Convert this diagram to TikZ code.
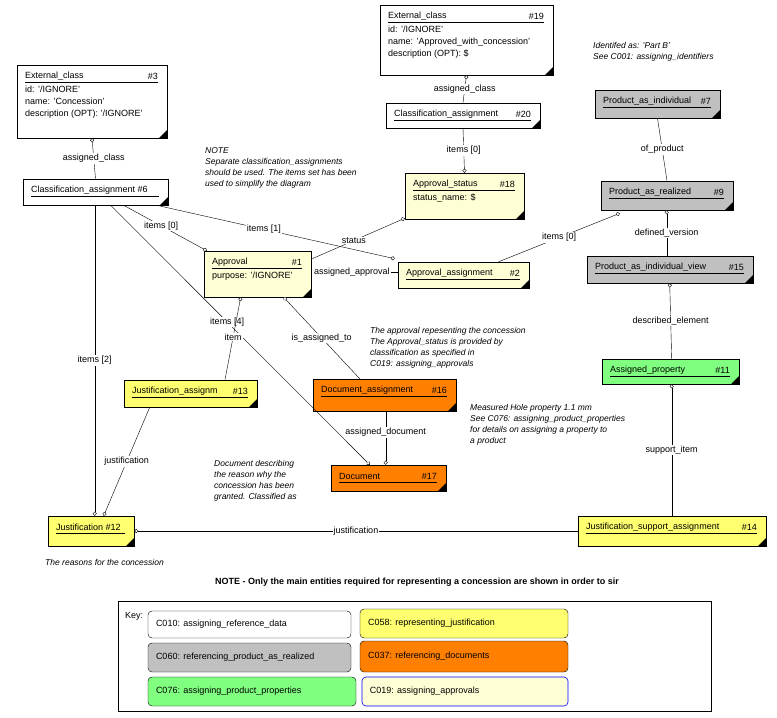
\documentclass[tikz,border=0pt]{standalone}
\usepackage{fontspec}
\setmainfont{Liberation Sans}
\usetikzlibrary{arrows.meta,calc}
\definecolor{ltyel}{RGB}{255,255,214}
\definecolor{yel}{RGB}{255,255,112}
\definecolor{gry}{RGB}{192,192,192}
\definecolor{org}{RGB}{255,128,0}
\definecolor{grn}{RGB}{128,255,128}
\tikzset{
  box/.style={draw,semithick,inner sep=0pt},
  txt/.style={inner sep=0pt,font=\fontsize{9}{11}\selectfont},
  note/.style={txt,align=left,font=\fontsize{8.5}{11}\selectfont\itshape,anchor=north west},
  rel/.style={-{Circle[open,fill=white,length=4pt]}},
  lbl/.style={txt,fill=white,inner sep=1pt},
  keybox/.style={draw,rounded corners=4pt,inner sep=0pt},
}
% name, x1, y1, x2, y2, fill, title, number, attributes
\newcommand\ent[9]{%
  \node[box,fill=#6,minimum width={(#4-#2)*1pt},minimum height={(#5-#3)*1pt}]
    (#1) at ({(#2+#4)/2},{(#3+#5)/2}) {};
  \node[txt,anchor=west] (#1t) at ({#2+8},{#3+11}) {#7};
  \node[txt,anchor=east] (#1n) at ({#4-9},{#3+11}) {#8};
  \draw ({#2+8},{#3+17}) -- ({#4-9},{#3+17});
  \node[txt,anchor=north west,align=left] (#1a) at ({#2+8},{#3+21}) {#9};
  \fill (#4,#5) -- ++(-8,0) -- ++(8,-8) -- cycle;
}
\begin{document}
\begin{tikzpicture}[x=1pt,y=-1pt]
\useasboundingbox (0,0) rectangle (777,718);
% entities
\ent{ext3}{17}{65}{167}{138}{white}{External\_class}{\#3}{id: '/IGNORE'\\[1pt]name: 'Concession'\\[1pt]description (OPT): '/IGNORE'}
\ent{ext19}{380}{5}{553}{75}{white}{External\_class}{\#19}{id: '/IGNORE'\\[1pt]name: 'Approved\_with\_concession'\\[1pt]description (OPT): \$}
\ent{ca20}{386}{103}{540}{128}{white}{Classification\_assignment}{\#20}{}
\ent{ca6}{23}{179}{168}{205}{white}{Classification\_assignment \#6}{}{}
\ent{as18}{405}{173}{524}{219}{ltyel}{Approval\_status}{\#18}{status\_name: \$}
\ent{appr1}{204}{251}{311}{297}{ltyel}{Approval}{\#1}{purpose: '/IGNORE'}
\ent{aa2}{398}{262}{529}{288}{ltyel}{Approval\_assignment}{\#2}{}
\ent{pai7}{595}{90}{720}{118}{gry}{Product\_as\_individual}{\#7}{}
\ent{par9}{601}{181}{733}{210}{gry}{Product\_as\_realized}{\#9}{}
\ent{paiv15}{587}{256}{753}{283}{gry}{Product\_as\_individual\_view}{\#15}{}
\ent{ap11}{602}{359}{739}{384}{grn}{Assigned\_property}{\#11}{}
\ent{ja13}{124}{380}{257}{407}{yel}{Justification\_assignm}{\#13}{}
\ent{da16}{313}{379}{456}{411}{org}{Document\_assignment}{\#16}{}
\ent{doc17}{331}{465}{446}{491}{org}{Document}{\#17}{}
\ent{j12}{48}{516}{134}{546}{yel}{Justification \#12}{}{}
\ent{jsa14}{578}{516}{766}{546}{yel}{Justification\_support\_assignment}{\#14}{}
% relationships
\draw[rel] (ca6.north) -- node[lbl]{assigned\_class} (ext3.south);
\draw[rel] (ca20.north) -- node[lbl]{assigned\_class} (ext19.south);
\draw[rel] (ca20.south) -- node[lbl]{items [0]} (as18.north);
\draw (par9.north) -- node[lbl]{of\_product} (pai7.north |- pai7.south);
\draw[rel] ($(paiv15.north west)+(80,0)$) -- node[lbl]{defined\_version} ($(par9.south west)+(66,0)$);
\draw[rel] ($(ap11.north west)+(70,0)$) -- node[lbl]{described\_element} ($(paiv15.south west)+(83,0)$);
\draw[rel] ($(jsa14.north west)+(94,0)$) -- node[lbl]{support\_item} ($(ap11.south west)+(70,0)$);
\draw[rel] ($(ca6.south west)+(101,0)$) -- node[lbl,pos=0.45]{items [0]} ($(appr1.north west)+(3,0)$);
\draw[rel] ($(ca6.south west)+(134,0)$) -- node[lbl,pos=0.45]{items [1]} ($(aa2.north west)+(-3,-3)$);
\draw[rel] ($(ca6.south west)+(72,0)$) -- node[lbl]{items [2]} ($(j12.north west)+(47,0)$);
\draw[rel] ($(ca6.south west)+(88,0)$) -- node[lbl,pos=0.45]{items [4]} ($(doc17.north west)+(39,0)$);
\draw[rel] ($(appr1.north east)+(1,8)$) -- node[lbl,pos=0.45]{status} ($(as18.south west)+(0,-1)$);
\draw[rel] ($(aa2.north west)+(0,10)$) -- node[lbl,pos=0.55]{assigned\_approval} ($(appr1.north east)+(3,21)$);
\draw[rel] ($(aa2.north west)+(101,0)$) -- node[lbl]{items [0]} ($(par9.south west)+(19,3)$);
\draw[rel] (ja13.north -| 225,0) -- node[lbl,pos=0.52]{item} ($(appr1.south west)+(37,0)$);
\draw[rel] ($(da16.north west)+(47,0)$) -- node[lbl,pos=0.5]{is\_assigned\_to} ($(appr1.south west)+(80,0)$);
\draw[rel] ($(ja13.south west)+(26,0)$) -- node[lbl]{justification} ($(j12.north west)+(56,0)$);
\draw[rel] ($(da16.south west)+(73,0)$) -- node[lbl,pos=0.4]{assigned\_document} ($(doc17.north west)+(55,0)$);
\draw[rel] ($(jsa14.west)+(0,0)$) -- node[lbl,pos=0.5]{justification} (j12.east);
% notes
\node[note] (n1) at (593,42) {Identifed as: 'Part B'\\See C001: assigning\_identifiers};
\node[note] (n2) at (205,147) {NOTE\\Separate classification\_assignments\\should be used. The items set has been\\used to simplify the diagram};
\node[note] (n3) at (370,327) {The approval repesenting the concession\\The Approval\_status is provided by\\classification as specified in\\C019: assigning\_approvals};
\node[note] (n4) at (470,404) {Measured Hole property 1.1 mm\\See C076: assigning\_product\_properties\\for details on assigning a property to\\a product};
\node[note] (n5) at (214,460) {Document describing\\the reason why the\\concession has been\\granted. Classified as};
\node[note] (n6) at (45,559) {The reasons for the concession};
\node[txt,anchor=west,font=\fontsize{9}{11}\selectfont\bfseries] (n7) at (215,582) {NOTE - Only the main entities required for representing a concession are shown in order to sir};
% key
\node[draw,minimum width=593pt,minimum height=110pt,inner sep=0pt] (key) at (414.5,656) {};
\node[txt,anchor=north west] (keyt) at (125,612) {Key:};
\node[keybox,fill=white,minimum width=203pt,minimum height=27pt] (k1) at (249.5,624.5) {};
\node[txt,anchor=west] at ($(k1.west)+(8,0)$) {C010: assigning\_reference\_data};
\node[keybox,fill=yel,minimum width=208pt,minimum height=29pt] (k2) at (464,623.5) {};
\node[txt,anchor=west] at ($(k2.west)+(8,0)$) {C058: representing\_justification};
\node[keybox,fill=gry,minimum width=203pt,minimum height=29pt] (k3) at (249.5,657.5) {};
\node[txt,anchor=west] at ($(k3.west)+(8,0)$) {C060: referencing\_product\_as\_realized};
\node[keybox,fill=org,minimum width=208pt,minimum height=31pt] (k4) at (464,656.5) {};
\node[txt,anchor=west] at ($(k4.west)+(8,0)$) {C037: referencing\_documents};
\node[keybox,fill=grn,minimum width=208pt,minimum height=29pt] (k5) at (252,691.5) {};
\node[txt,anchor=west] at ($(k5.west)+(8,0)$) {C076: assigning\_product\_properties};
\node[keybox,draw=blue,semithick,fill=ltyel,minimum width=206pt,minimum height=29pt] (k6) at (465,691.5) {};
\node[txt,anchor=west] at ($(k6.west)+(8,0)$) {C019: assigning\_approvals};
\end{tikzpicture}
\end{document}
